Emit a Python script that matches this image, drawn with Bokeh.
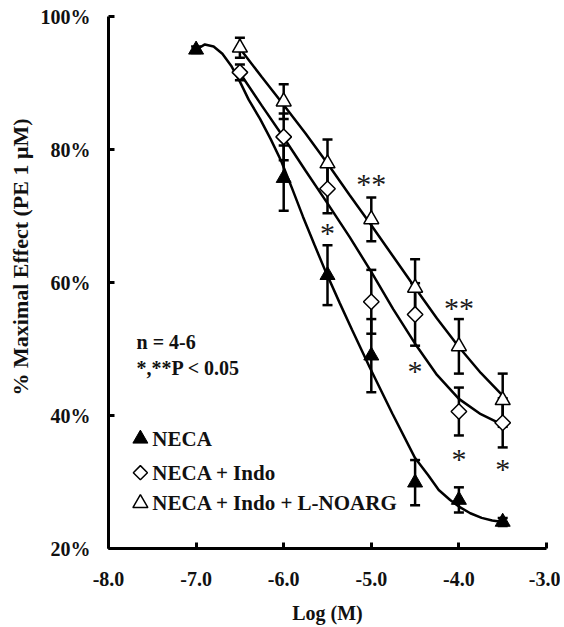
import math
from bokeh.plotting import figure
from bokeh.models import Range1d, FixedTicker, Label, Whisker, TeeHead, ColumnDataSource, Title
from bokeh.embed import file_html
from bokeh.resources import INLINE
from bokeh.core.properties import value

# ---------------- data ----------------
neca_x = [-7.0, -6.0, -5.5, -5.0, -4.5, -4.0, -3.5]
neca_y = [95.0, 75.7, 61.1, 49.0, 29.9, 27.3, 24.0]
neca_err = [0.5, 4.9, 4.5, 5.5, 3.4, 1.9, 0.6]

indo_x = [-6.5, -6.0, -5.5, -5.0, -4.5, -4.0, -3.5]
indo_y = [91.6, 81.9, 74.1, 57.1, 55.2, 40.6, 38.9]
indo_err = [1.2, 3.5, 3.7, 4.8, 4.7, 3.6, 3.7]

noarg_x = [-6.5, -6.0, -5.5, -5.0, -4.5, -4.0, -3.5]
noarg_y = [95.3, 87.2, 77.9, 69.5, 59.2, 50.4, 42.3]
noarg_err = [1.5, 2.6, 3.6, 3.3, 4.3, 4.1, 4.0]

# fitted curves
neca_fit_x = [-7.0, -6.9, -6.8, -6.7, -6.6, -6.5, -6.4, -6.27, -6.15, -6.03, -5.9, -5.78,
              -5.65, -5.52, -5.36, -5.22, -5.02, -4.76, -4.5, -4.35, -4.23, -4.1, -4.0,
              -3.87, -3.74, -3.62, -3.5]
neca_fit_y = [95.0, 95.8, 95.5, 94.4, 92.6, 90.2, 87.5, 84.6, 81.6, 78.3, 74.0, 69.9,
              65.7, 61.6, 56.9, 52.9, 47.3, 40.3, 33.6, 31.0, 28.8, 27.3, 26.3,
              25.3, 24.6, 24.2, 24.0]

indo_fit_x = [-6.5, -6.25, -6.0, -5.75, -5.5, -5.25, -5.0, -4.75, -4.5, -4.25, -4.0, -3.75, -3.5]
indo_fit_y = [91.5, 86.6, 81.8, 76.8, 71.9, 66.9, 61.6, 56.0, 50.8, 46.1, 42.5, 40.2, 38.6]

noarg_fit_x = [-6.5, -6.25, -6.0, -5.75, -5.5, -5.25, -5.0, -4.75, -4.5, -4.25, -4.0, -3.75, -3.5]
noarg_fit_y = [95.2, 90.9, 86.7, 82.4, 77.9, 73.2, 68.6, 63.9, 59.2, 54.6, 50.3, 46.4, 43.0]

# significance marks
sig_x = [-5.0, -5.5, -4.0, -4.5, -4.0, -3.5]
sig_y = [75.7, 68.3, 57.0, 47.5, 34.3, 32.8]
sig_text = ["**", "*", "**", "*", "*", "*"]

x_ticks = [-8.0, -7.0, -6.0, -5.0, -4.0, -3.0]
x_tick_labels = ["-8.0", "-7.0", "-6.0", "-5.0", "-4.0", "-3.0"]
y_ticks = [20, 40, 60, 80, 100]
y_tick_labels = ["20%", "40%", "60%", "80%", "100%"]

legend_labels = ["NECA", "NECA + Indo", "NECA + Indo + L-NOARG"]
note_lines = ["n = 4-6", "*,**P < 0.05"]
x_title = "Log (M)"
y_title = "% Maximal Effect (PE 1 μM)"

FONT = "Liberation Serif"
INK = "#111111"

# ---------------- figure ----------------
p = figure(width=560, height=626, x_range=Range1d(-8, -3), y_range=Range1d(20, 100),
           output_backend="svg", toolbar_location=None, title=None,
           min_border_left=106, min_border_right=14, min_border_top=16, min_border_bottom=78)
p.outline_line_color = None
p.xgrid.visible = False
p.ygrid.visible = False
p.background_fill_color = "white"
p.border_fill_color = "white"

for ax in (p.xaxis[0], p.yaxis[0]):
    ax.axis_line_width = 3
    ax.axis_line_color = "black"
    ax.major_tick_line_width = 3
    ax.major_tick_in = 6
    ax.major_tick_out = 0
    ax.minor_tick_line_color = None
    ax.major_label_text_font = FONT
    ax.major_label_text_font_style = "bold"
    ax.major_label_text_font_size = "20px"
    ax.major_label_text_color = INK

p.xaxis[0].ticker = FixedTicker(ticks=x_ticks)
p.xaxis[0].major_label_overrides = {t: l for t, l in zip(x_ticks, x_tick_labels)}
p.xaxis[0].major_label_standoff = 23
p.xaxis[0].axis_label = x_title
p.xaxis[0].axis_label_text_font = FONT
p.xaxis[0].axis_label_text_font_style = "bold"
p.xaxis[0].axis_label_text_font_size = "20px"
p.xaxis[0].axis_label_text_color = INK
p.xaxis[0].axis_label_standoff = 13

p.yaxis[0].ticker = FixedTicker(ticks=y_ticks)
p.yaxis[0].major_label_overrides = {t: l for t, l in zip(y_ticks, y_tick_labels)}
p.yaxis[0].major_label_standoff = 18

p.add_layout(Title(text=y_title, align="left", offset=153, standoff=10,
                   text_font=FONT, text_font_style="bold", text_font_size="22px",
                   text_color=INK), "left")

# curves
for fx, fy in ((neca_fit_x, neca_fit_y), (indo_fit_x, indo_fit_y), (noarg_fit_x, noarg_fit_y)):
    p.line(fx, fy, line_color="black", line_width=2.5)

# error bars
for xs, ys, es in ((neca_x, neca_y, neca_err), (indo_x, indo_y, indo_err), (noarg_x, noarg_y, noarg_err)):
    src = ColumnDataSource(dict(x=xs, lower=[y - e for y, e in zip(ys, es)],
                                upper=[y + e for y, e in zip(ys, es)]))
    w = Whisker(source=src, base="x", lower="lower", upper="upper",
                line_color="black", line_width=2.5,
                upper_head=TeeHead(size=10, line_width=2.5, line_color="black"),
                lower_head=TeeHead(size=10, line_width=2.5, line_color="black"))
    p.add_layout(w)

# markers
p.scatter(neca_x, neca_y, marker="triangle", size=15, fill_color="black", line_color="black", line_width=1)
p.scatter(indo_x, indo_y, marker="square", angle=math.pi / 4, size=11,
          fill_color="white", line_color="black", line_width=1.5)
p.scatter(noarg_x, noarg_y, marker="triangle", size=15, fill_color="white", line_color="black", line_width=1.5)

# significance asterisks
p.text(sig_x, sig_y, text=sig_text, text_font=value(FONT), text_font_size="30px",
       text_align="center", text_baseline="middle", text_color="#1a1a1a", y_offset=5)

# notes
note_y = [51.0, 47.2]
for t, yy in zip(note_lines, note_y):
    p.add_layout(Label(x=-7.68, y=yy, text=t, text_font=FONT, text_font_style="bold",
                       text_font_size="20px", text_baseline="middle", text_align="left",
                       text_color=INK))

# legend (drawn manually)
leg_y = [36.5, 31.4, 26.8]
p.scatter([-7.636], [leg_y[0]], marker="triangle", size=15, fill_color="black", line_color="black")
p.scatter([-7.636], [leg_y[1]], marker="square", angle=math.pi / 4, size=10,
          fill_color="white", line_color="black", line_width=1.5)
p.scatter([-7.636], [leg_y[2]], marker="triangle", size=15, fill_color="white", line_color="black", line_width=1.5)
for t, yy in zip(legend_labels, leg_y):
    p.add_layout(Label(x=-7.5, y=yy, text=t, text_font=FONT, text_font_style="bold",
                       text_font_size="21px", text_baseline="middle", text_align="left",
                       text_color=INK))

open("out.html", "w").write(file_html(p, INLINE))
